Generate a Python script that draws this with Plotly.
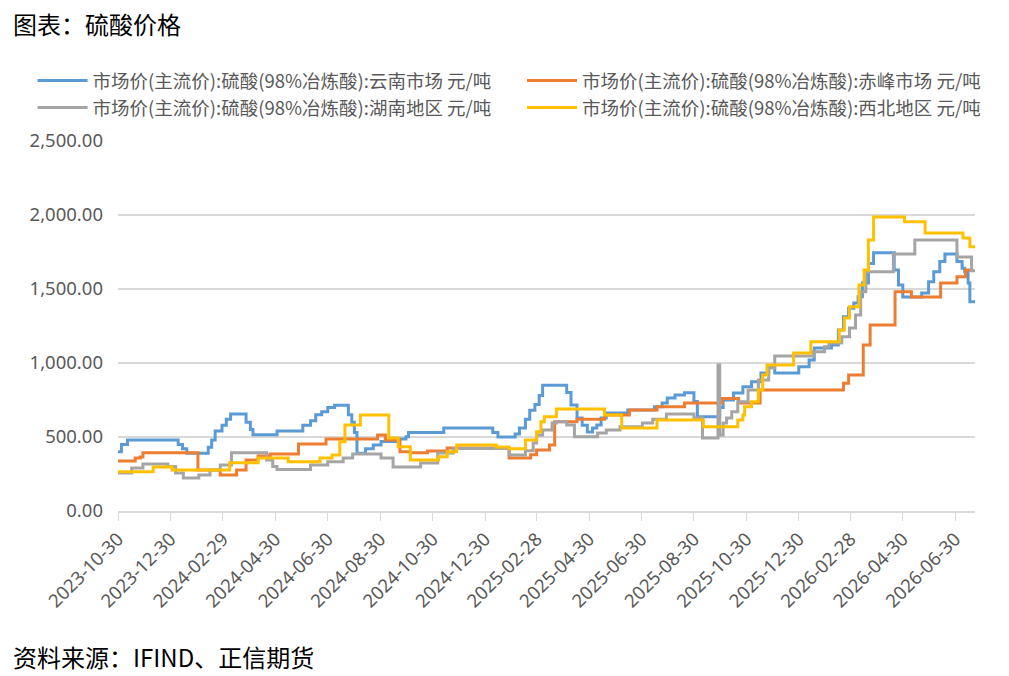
import plotly.graph_objects as go

# --- data: change points of each weekly price series (元/吨) ---
yunnan_dates = [
    "2023-10-30", "2023-11-03", "2023-11-10", "2024-01-08", "2024-01-13", "2024-01-18",
    "2024-02-12", "2024-02-16", "2024-02-20", "2024-02-28", "2024-03-04", "2024-03-09",
    "2024-03-27", "2024-04-01", "2024-04-04", "2024-05-02", "2024-06-01", "2024-06-10",
    "2024-06-16", "2024-06-23", "2024-06-30", "2024-07-08", "2024-07-24", "2024-07-28",
    "2024-07-31", "2024-08-03", "2024-08-13", "2024-08-22", "2024-08-31", "2024-09-17",
    "2024-09-29", "2024-10-02", "2024-11-12", "2025-01-08", "2025-01-14", "2025-02-03",
    "2025-02-08", "2025-02-15", "2025-02-20", "2025-02-26", "2025-03-03", "2025-03-07",
    "2025-04-04", "2025-04-09", "2025-04-16", "2025-04-22", "2025-04-28", "2025-05-04",
    "2025-05-09", "2025-05-14", "2025-05-20", "2025-06-14", "2025-07-15", "2025-07-24",
    "2025-07-30", "2025-08-08", "2025-08-19", "2025-08-30", "2025-09-03", "2025-09-29",
    "2025-10-03", "2025-10-15", "2025-10-26", "2025-11-05", "2025-11-16", "2025-11-25",
    "2025-12-02", "2025-12-30", "2026-01-11", "2026-01-17", "2026-02-06", "2026-02-14",
    "2026-02-20", "2026-02-26", "2026-03-04", "2026-03-09", "2026-03-14", "2026-03-21",
    "2026-03-27", "2026-04-20", "2026-04-25", "2026-04-30", "2026-05-22", "2026-05-30",
    "2026-06-05", "2026-06-12", "2026-06-18", "2026-07-02", "2026-07-08", "2026-07-11",
    "2026-07-15", "2026-07-17", "2026-07-23",
]
yunnan_vals = [
    400, 450, 480, 450, 420, 390,
    430, 480, 540, 580, 620, 655,
    600, 550, 515, 540, 580, 610,
    650, 670, 700, 715, 650, 600,
    530, 390, 420, 446, 470, 486,
    502, 530, 560, 530, 500, 520,
    560, 620, 680, 720, 780, 850,
    800, 716, 628, 580, 534, 561,
    581, 628, 662, 682, 705, 730,
    763, 784, 799, 740, 637, 700,
    750, 797, 840, 874, 932, 975,
    932, 975, 1020, 1101, 1122, 1223,
    1313, 1370, 1405, 1448, 1540, 1673,
    1745, 1628, 1527, 1446, 1473, 1549,
    1617, 1685, 1736, 1685, 1641, 1617,
    1540, 1414, 1414,
]

chifeng_dates = [
    "2023-10-30", "2023-11-19", "2023-11-25", "2023-11-28", "2024-01-31", "2024-02-26",
    "2024-03-16", "2024-03-27", "2024-04-10", "2024-04-24", "2024-05-27", "2024-06-28",
    "2024-08-27", "2024-09-05", "2024-09-22", "2024-10-04", "2024-10-24", "2024-11-16",
    "2025-01-27", "2025-02-21", "2025-02-28", "2025-03-15", "2025-03-21", "2025-04-16",
    "2025-05-18", "2025-06-16", "2025-07-18", "2025-08-19", "2025-10-02", "2025-10-21",
    "2025-11-15", "2026-02-20", "2026-02-26", "2026-03-15", "2026-03-23", "2026-04-21",
    "2026-05-10", "2026-06-13", "2026-07-02", "2026-07-12", "2026-07-19",
]
chifeng_vals = [
    338, 358, 365, 394, 277, 243,
    277, 345, 371, 385, 453, 486,
    513, 480, 401, 394, 405, 425,
    358, 380, 412, 446, 603, 620,
    649, 682, 705, 730, 760, 730,
    818, 864, 919, 1122, 1257, 1482,
    1446, 1540, 1583, 1628, 1628,
]

hunan_dates = [
    "2023-10-30", "2023-11-15", "2023-11-28", "2023-12-27", "2024-01-05", "2024-01-14",
    "2024-02-01", "2024-02-14", "2024-02-26", "2024-03-10", "2024-04-20", "2024-04-27",
    "2024-05-02", "2024-06-10", "2024-06-30", "2024-07-18", "2024-07-29", "2024-08-31",
    "2024-09-14", "2024-10-16", "2024-11-05", "2024-11-23", "2025-01-27", "2025-02-15",
    "2025-02-24", "2025-02-28", "2025-03-07", "2025-03-18", "2025-03-23", "2025-04-04",
    "2025-04-13", "2025-05-10", "2025-05-20", "2025-06-05", "2025-07-01", "2025-07-13",
    "2025-07-29", "2025-08-30", "2025-09-09", "2025-09-27", "2025-09-29", "2025-10-03",
    "2025-10-07", "2025-10-13", "2025-10-20", "2025-11-01", "2025-11-13", "2025-11-25",
    "2025-12-02", "2026-01-16", "2026-01-29", "2026-02-03", "2026-02-18", "2026-02-27",
    "2026-03-06", "2026-03-12", "2026-03-18", "2026-04-19", "2026-05-14", "2026-07-02",
    "2026-07-19", "2026-07-23",
]
hunan_vals = [
    257, 290, 318, 300, 257, 223,
    243, 277, 311, 394, 345, 300,
    280, 311, 333, 358, 385, 358,
    297, 324, 392, 422, 378, 407,
    459, 513, 547, 594, 603, 581,
    502, 527, 547, 570, 594, 620,
    655, 628, 493, 986, 513, 594,
    628, 671, 739, 818, 885, 966,
    1047, 1076, 1110, 1135, 1178, 1236,
    1324, 1482, 1617, 1736, 1831, 1716,
    1623, 1623,
]

xibei_dates = [
    "2023-10-30", "2023-12-10", "2024-01-01", "2024-03-08", "2024-04-10", "2024-05-15",
    "2024-06-21", "2024-07-05", "2024-07-14", "2024-07-20", "2024-08-07", "2024-09-09",
    "2024-09-20", "2024-10-04", "2024-11-06", "2024-11-16", "2024-11-27", "2025-01-12",
    "2025-01-27", "2025-02-15", "2025-02-28", "2025-03-05", "2025-03-09", "2025-03-23",
    "2025-05-18", "2025-06-07", "2025-07-18", "2025-09-10", "2025-10-20", "2025-10-26",
    "2025-10-28", "2025-11-05", "2025-11-13", "2025-11-18", "2025-11-23", "2025-12-24",
    "2026-01-13", "2026-02-15", "2026-02-21", "2026-02-27", "2026-03-10", "2026-03-16",
    "2026-03-21", "2026-03-27", "2026-05-02", "2026-05-26", "2026-07-09", "2026-07-17",
    "2026-07-23",
]
xibei_vals = [
    266, 297, 277, 326, 358, 333,
    358, 378, 468, 581, 649, 493,
    434, 345, 367, 401, 446, 432,
    420, 480, 536, 603, 637, 689,
    649, 561, 615, 570, 615, 649,
    705, 739, 818, 919, 986, 1067,
    1144, 1223, 1304, 1380, 1527, 1628,
    1831, 1986, 1955, 1878, 1844, 1786,
    1786,
]

series_names = [
    "市场价(主流价):硫酸(98%冶炼酸):云南市场 元/吨",
    "市场价(主流价):硫酸(98%冶炼酸):赤峰市场 元/吨",
    "市场价(主流价):硫酸(98%冶炼酸):湖南地区 元/吨",
    "市场价(主流价):硫酸(98%冶炼酸):西北地区 元/吨",
]
series_colors = ["#5B9BD5", "#ED7D31", "#A5A5A5", "#FFC000"]
# left legend column holds 云南/湖南, right column 赤峰/西北
series_legend = ["legend", "legend2", "legend", "legend2"]

tick_dates = [
    "2023-10-30", "2023-12-30", "2024-02-29", "2024-04-30", "2024-06-30", "2024-08-30",
    "2024-10-30", "2024-12-30", "2025-02-28", "2025-04-30", "2025-06-30", "2025-08-30",
    "2025-10-30", "2025-12-30", "2026-02-28", "2026-04-30", "2026-06-30",
]
y_ticks = [0, 500, 1000, 1500, 2000, 2500]

CJK = "Noto Sans CJK SC"
GREY_TXT = "#595959"

fig = go.Figure()
all_x = [yunnan_dates, chifeng_dates, hunan_dates, xibei_dates]
all_y = [yunnan_vals, chifeng_vals, hunan_vals, xibei_vals]
for name, color, lg, xs, ys in zip(series_names, series_colors, series_legend, all_x, all_y):
    fig.add_trace(go.Scatter(
        x=xs, y=ys, name=name, mode="lines", legend=lg,
        line=dict(color=color, width=3, shape="hv"),
    ))

legend_style = dict(
    orientation="v", yanchor="top", y=1.2135, xanchor="left",
    font=dict(family=CJK, size=18.5, color=GREY_TXT),
    itemwidth=50, bgcolor="rgba(0,0,0,0)", tracegroupgap=0,
)

# page body adds an 8px offset, so margins are shifted to compensate
fig.update_layout(
    width=1009, height=676, autosize=False,
    margin=dict(l=110, r=42, t=133, b=173),
    paper_bgcolor="white", plot_bgcolor="white",
    font=dict(family=CJK, color=GREY_TXT),
    showlegend=True,
    legend=dict(x=-0.0997, **legend_style),
    legend2=dict(x=0.4714, **legend_style),
)

fig.update_xaxes(
    type="date", range=["2023-10-30", "2026-07-23"],
    tickvals=tick_dates, ticktext=tick_dates, tickangle=-45,
    tickfont=dict(family="Noto Sans", size=18.5, color=GREY_TXT),
    showgrid=False, showline=True, linecolor="#D9D9D9", linewidth=2,
    ticks="outside", ticklen=8, tickcolor="#D9D9D9", tickwidth=1,
    zeroline=False,
)
fig.update_yaxes(
    range=[0, 2500], tickvals=y_ticks, tickformat=",.2f",
    tickfont=dict(family="Noto Sans", size=18.5, color=GREY_TXT),
    showgrid=True, gridcolor="#D9D9D9", gridwidth=1.5,
    showline=False, zeroline=False, ticks="", ticklabelstandoff=14,
)

fig.add_annotation(
    text="图表：硫酸价格", xref="paper", yref="paper",
    x=-0.125, y=1.318, xanchor="left", yanchor="middle", showarrow=False,
    font=dict(family=CJK, size=24, color="#000000"),
)
fig.add_annotation(
    text="资料来源：IFIND、正信期货", xref="paper", yref="paper",
    x=-0.125, y=-0.392, xanchor="left", yanchor="middle", showarrow=False,
    font=dict(family=CJK, size=24, color="#000000"),
)

fig.write_html("out.html")
